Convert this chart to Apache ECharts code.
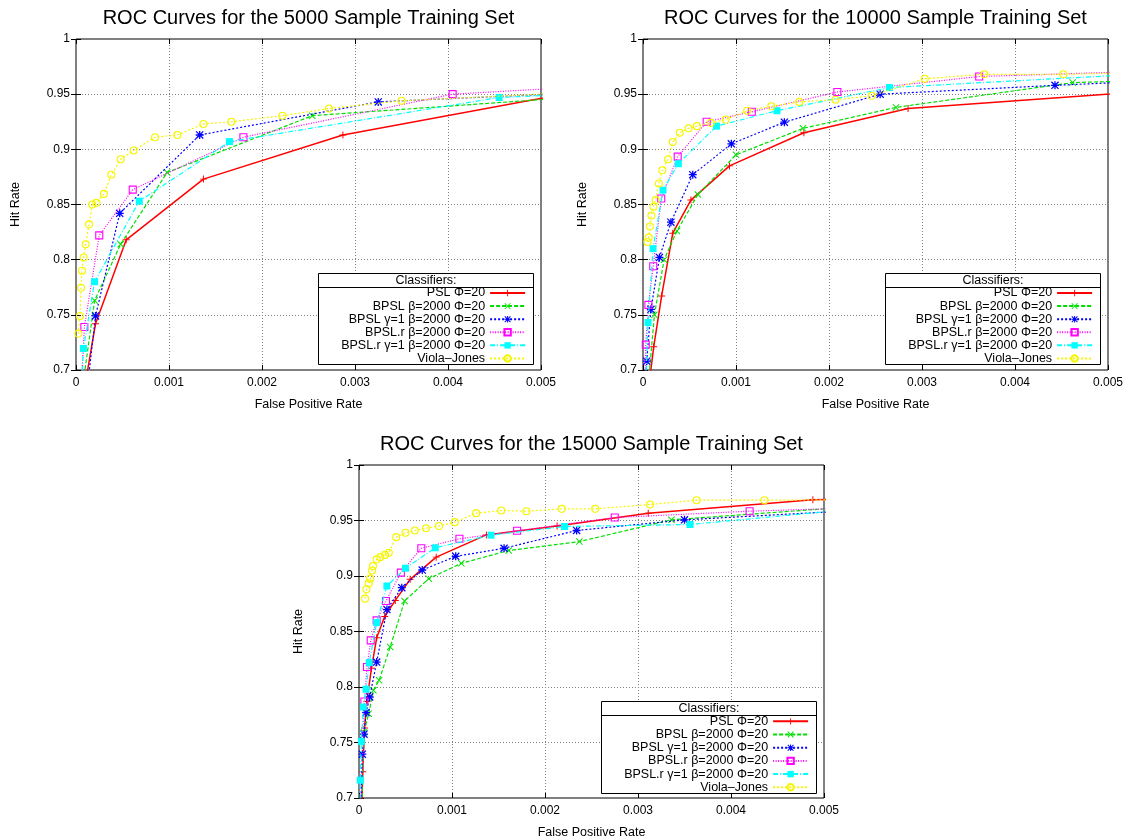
<!DOCTYPE html>
<html><head><meta charset="utf-8">
<script src="https://cdn.jsdelivr.net/npm/echarts@6/dist/echarts.min.js"></script>
<style>html,body{margin:0;padding:0;background:#fff}#c{width:1127px;height:840px}</style>
</head><body><div id="c"></div>
<script>
// ---------- data ----------
const seriesNames = ['PSL Φ=20', 'BPSL β=2000 Φ=20', 'BPSL γ=1 β=2000 Φ=20', 'BPSL.r β=2000 Φ=20', 'BPSL.r γ=1 β=2000 Φ=20', 'Viola–Jones'];
const panelTitles = ['ROC Curves for the 5000 Sample Training Set', 'ROC Curves for the 10000 Sample Training Set', 'ROC Curves for the 15000 Sample Training Set'];
const xTickLabels = ['0', '0.001', '0.002', '0.003', '0.004', '0.005'];
const yTickLabels = ['0.7', '0.75', '0.8', '0.85', '0.9', '0.95', '1'];
const legendTitle = 'Classifiers:';
const xAxisTitle = 'False Positive Rate';
const yAxisTitle = 'Hit Rate';

// 5000 sample training set  [false positive rate, hit rate]
const psl5000 = [[0.000105,0.69],[0.00021,0.742],[0.00054,0.818],[0.00137,0.873],[0.00287,0.913],[0.0055,0.954]];
const bpsl5000 = [[0.00008,0.69],[0.0002,0.763],[0.00048,0.814],[0.00098,0.879],[0.00254,0.9305],[0.0055,0.948]];
const bpslG5000 = [[0.00013,0.69],[0.00021,0.749],[0.00047,0.842],[0.00133,0.913],[0.00325,0.943],[0.0055,0.9516]];
const bpslR5000 = [[0.00006,0.69],[0.00009,0.739],[0.00025,0.822],[0.00061,0.8635],[0.0018,0.911],[0.00405,0.950],[0.0055,0.9569]];
const bpslRG5000 = [[0.00006,0.69],[0.00008,0.7195],[0.0002,0.780],[0.00068,0.853],[0.00165,0.907],[0.00455,0.947],[0.0055,0.9505]];
const vj5000 = [[0.000025,0.733],[0.000043,0.749],[0.000054,0.7745],[0.000064,0.790],[0.000082,0.802],[0.000104,0.814],[0.00014,0.832],[0.000175,0.850],[0.00022,0.8515],[0.0003,0.8596],[0.00038,0.877],[0.00048,0.891],[0.00062,0.899],[0.00085,0.911],[0.00109,0.913],[0.00137,0.923],[0.00167,0.925],[0.00222,0.9305],[0.00272,0.937],[0.0035,0.944],[0.0055,0.952]];

// 10000 sample training set
const psl10000 = [[0.00007,0.69],[0.000115,0.721],[0.0002,0.767],[0.00032,0.824],[0.000515,0.854],[0.00093,0.885],[0.00173,0.915],[0.00285,0.937],[0.0055,0.953]];
const bpsl10000 = [[0.00006,0.69],[0.000123,0.750],[0.000227,0.800],[0.000365,0.826],[0.00059,0.859],[0.001,0.895],[0.00172,0.919],[0.00272,0.938],[0.00462,0.9605],[0.0055,0.9625]];
const bpslG10000 = [[0.00003,0.69],[0.00004,0.708],[0.000085,0.755],[0.000177,0.802],[0.0003,0.834],[0.000535,0.877],[0.00095,0.905],[0.00152,0.9246],[0.00255,0.950],[0.00443,0.958],[0.0055,0.962]];
const bpslR10000 = [[0.00002,0.69],[0.00003,0.723],[0.000058,0.759],[0.00011,0.794],[0.000196,0.8554],[0.000373,0.8934],[0.000685,0.925],[0.00117,0.934],[0.00209,0.952],[0.003615,0.966],[0.0055,0.971]];
const bpslRG10000 = [[0.00003,0.69],[0.000054,0.743],[0.000108,0.810],[0.000215,0.863],[0.00038,0.887],[0.00079,0.921],[0.00144,0.935],[0.00265,0.956],[0.0055,0.9688]];
const vj10000 = [[0.000048,0.816],[0.000062,0.820],[0.000074,0.830],[0.000091,0.840],[0.000112,0.848],[0.000136,0.854],[0.00017,0.869],[0.000208,0.881],[0.00027,0.891],[0.00032,0.9066],[0.000395,0.915],[0.00049,0.919],[0.00058,0.921],[0.00073,0.924],[0.00089,0.927],[0.00112,0.935],[0.00138,0.939],[0.00168,0.943],[0.00207,0.945],[0.00246,0.9485],[0.00303,0.964],[0.00367,0.968],[0.00452,0.968],[0.0055,0.970]];

// 15000 sample training set
const psl15000 = [[0.00003,0.69],[0.00004,0.7237],[0.00006,0.763],[0.000084,0.787],[0.000134,0.8168],[0.00019,0.8443],[0.000276,0.8635],[0.00039,0.878],[0.00055,0.897],[0.00083,0.917],[0.00137,0.937],[0.00213,0.945],[0.00311,0.9566],[0.00488,0.9686],[0.0055,0.970]];
const bpsl15000 = [[0.00003,0.69],[0.000054,0.759],[0.000104,0.776],[0.000155,0.797],[0.000216,0.806],[0.000335,0.836],[0.00049,0.8775],[0.00075,0.8976],[0.0011,0.9114],[0.00161,0.923],[0.00237,0.931],[0.00336,0.9506],[0.0055,0.9635]];
const bpslG15000 = [[0.00002,0.69],[0.000036,0.7395],[0.000054,0.7575],[0.000076,0.777],[0.000115,0.791],[0.00019,0.8225],[0.0003,0.8698],[0.00046,0.8895],[0.00068,0.9054],[0.00104,0.9177],[0.00156,0.925],[0.00234,0.941],[0.0035,0.9506],[0.0055,0.9598]];
const bpslR15000 = [[0.00002,0.69],[0.000058,0.787],[0.000086,0.818],[0.000126,0.842],[0.00019,0.860],[0.00029,0.8775],[0.00045,0.903],[0.00067,0.925],[0.00108,0.9335],[0.0017,0.9407],[0.00275,0.9527],[0.0042,0.9584],[0.0055,0.9618]];
const bpslRG15000 = [[0.00001,0.69],[0.000014,0.716],[0.000025,0.751],[0.000047,0.782],[0.000076,0.798],[0.00011,0.822],[0.00019,0.858],[0.0003,0.891],[0.0005,0.907],[0.00082,0.9254],[0.00142,0.9368],[0.00221,0.9446],[0.00356,0.9464],[0.0055,0.9617]];
const vj15000 = [[0.000065,0.8796],[0.00008,0.888],[0.000104,0.8934],[0.00012,0.8976],[0.00014,0.905],[0.00015,0.909],[0.00019,0.915],[0.00023,0.917],[0.00028,0.919],[0.00032,0.921],[0.0004,0.935],[0.0005,0.939],[0.0006,0.941],[0.00072,0.943],[0.00086,0.945],[0.00103,0.9485],[0.00126,0.9566],[0.00153,0.959],[0.0018,0.9584],[0.00218,0.9605],[0.00254,0.9605],[0.00313,0.9644],[0.00363,0.9683],[0.00436,0.9683],[0.0055,0.9688]];

const panelData = [
  [psl5000, bpsl5000, bpslG5000, bpslR5000, bpslRG5000, vj5000],
  [psl10000, bpsl10000, bpslG10000, bpslR10000, bpslRG10000, vj10000],
  [psl15000, bpsl15000, bpslG15000, bpslR15000, bpslRG15000, vj15000]
];

// ---------- layout & style ----------
const FONT = '"Liberation Sans", Arial, Helvetica, sans-serif';
const CW = 1127;
const panels = [
  {left: 76, top: 39, width: 465, height: 331},
  {left: 643, top: 39, width: 465, height: 331},
  {left: 359, top: 465, width: 465, height: 334}
];
const PLUS = 'path://M0,4.3H10V5.7H0Z M4.3,0H5.7V10H4.3Z';
const CROSS = 'path://M1,0L10,9L9,10L0,1Z M9,0L10,1L1,10L0,9Z';
const STAR = 'path://M0,4.2H10V5.8H0Z M4.2,0H5.8V10H4.2Z M1.1,0L10,8.9L8.9,10L0,1.1Z M8.9,0L10,1.1L1.1,10L0,8.9Z';
const styles = [
  {color: '#ff0000', type: 'solid', width: 1.5, symbol: PLUS, size: 7, fill: true},
  {color: '#00e000', type: [4, 2], width: 1.2, symbol: CROSS, size: 7, fill: true},
  {color: '#0000ff', type: [2, 2], width: 1.2, symbol: STAR, size: 8, fill: true},
  {color: '#ff00ff', type: [1, 1.5], width: 1.2, symbol: 'rect', size: 7, fill: false},
  {color: '#00ffff', type: [5, 2, 1, 2], width: 1.2, symbol: 'rect', size: 7, fill: true},
  {color: '#f5f500', type: [2, 2], width: 1.2, symbol: 'circle', size: 7, fill: false}
];

const grids = [], xAxes = [], yAxes = [], series = [], legends = [], graphics = [];
const textStyle = {color: '#000', fontFamily: FONT, fontSize: 12};

panels.forEach((p, pi) => {
  grids.push({left: p.left, top: p.top, width: p.width, height: p.height, show: true,
    borderColor: '#000', borderWidth: 1, backgroundColor: 'transparent', containLabel: false});
  const xBase = {type: 'value', gridIndex: pi, min: 0, max: 0.005, interval: 0.001};
  const yBase = {type: 'value', gridIndex: pi, min: 0.7, max: 1, interval: 0.05};
  xAxes.push(Object.assign({}, xBase, {
    position: 'bottom',
    name: xAxisTitle, nameLocation: 'middle', nameGap: 28,
    nameTextStyle: Object.assign({}, textStyle, {fontSize: 12.5}),
    axisLine: {show: false},
    axisTick: {show: true, inside: true, length: 5, lineStyle: {color: '#000'}},
    axisLabel: Object.assign({}, textStyle, {margin: 7, formatter: v => xTickLabels[Math.round(v / 0.001)]}),
    splitLine: {show: true, lineStyle: {color: '#808080', type: [1, 2], width: 1}}
  }));
  xAxes.push(Object.assign({}, xBase, {
    position: 'top', axisLine: {show: false}, axisLabel: {show: false}, splitLine: {show: false},
    axisTick: {show: true, inside: true, length: 5, lineStyle: {color: '#000'}}
  }));
  yAxes.push(Object.assign({}, yBase, {
    position: 'left',
    name: yAxisTitle, nameLocation: 'middle', nameGap: 54, nameRotate: 90,
    nameTextStyle: Object.assign({}, textStyle, {fontSize: 12.5}),
    axisLine: {show: false},
    axisTick: {show: true, inside: true, length: 5, lineStyle: {color: '#000'}},
    axisLabel: Object.assign({}, textStyle, {margin: 6, formatter: v => yTickLabels[Math.round((v - 0.7) / 0.05)]}),
    splitLine: {show: true, lineStyle: {color: '#808080', type: [1, 2], width: 1}}
  }));
  yAxes.push(Object.assign({}, yBase, {
    position: 'right', axisLine: {show: false}, axisLabel: {show: false}, splitLine: {show: false},
    axisTick: {show: true, inside: true, length: 5, lineStyle: {color: '#000'}}
  }));

  panelData[pi].forEach((d, si) => {
    const st = styles[si];
    series.push({
      type: 'line', name: seriesNames[si], xAxisIndex: pi * 2, yAxisIndex: pi * 2,
      data: d, clip: true, animation: false, silent: true,
      symbol: st.symbol, symbolSize: st.size, showAllSymbol: true,
      lineStyle: {color: st.color, width: st.width, type: st.type},
      itemStyle: st.fill ? {color: st.color} : {color: 'rgba(255,255,255,0)', borderColor: st.color, borderWidth: 1.1},
      emphasis: {disabled: true},
      z: 2 + si * 0.01
    });
  });

  // legend box (layout relative to grid)
  const bx0 = Math.round(p.left + 0.5195 * p.width) + 0.5;
  const bx1 = Math.round(p.left + 0.983 * p.width) + 0.5;
  const by0 = Math.round(p.top + 0.708 * p.height) + 0.5;
  const bsep = Math.round(p.top + 0.748 * p.height) + 0.5;
  const by1 = Math.round(p.top + 0.983 * p.height) + 0.5;
  graphics.push({type: 'rect', z: 8, shape: {x: bx0, y: by0, width: bx1 - bx0, height: by1 - by0},
    style: {fill: '#fff', stroke: '#000', lineWidth: 1}});
  graphics.push({type: 'line', z: 9, shape: {x1: bx0, y1: bsep, x2: bx1, y2: bsep}, style: {stroke: '#000', lineWidth: 1}});
  graphics.push({type: 'text', z: 9, x: (bx0 + bx1) / 2, y: (by0 + bsep) / 2,
    style: {text: legendTitle, font: '12.5px ' + FONT, fill: '#000', textAlign: 'center', textVerticalAlign: 'middle'}});
  // panel title
  graphics.push({type: 'text', z: 9, x: p.left + p.width / 2, y: p.top - 21,
    style: {text: panelTitles[pi], font: '20px ' + FONT, fill: '#000', textAlign: 'center', textVerticalAlign: 'middle'}});

  const rowSpacing = 0.0395 * p.height;
  legends.push({
    data: seriesNames, orient: 'vertical', align: 'right',
    right: CW - (p.left + 0.968 * p.width),
    top: p.top + 0.766 * p.height - rowSpacing / 2 + 0.5,
    itemWidth: 35, itemHeight: 8, itemGap: 0, padding: 0,
    selectedMode: false, z: 10,
    textStyle: Object.assign({}, textStyle, {fontSize: 12.5, lineHeight: rowSpacing})
  });
});

const chart = echarts.init(document.getElementById('c'), null, {renderer: 'canvas'});
chart.setOption({
  backgroundColor: '#fff',
  animation: false,
  grid: grids, xAxis: xAxes, yAxis: yAxes,
  legend: legends, series: series, graphic: graphics
});
</script>
</body></html>
